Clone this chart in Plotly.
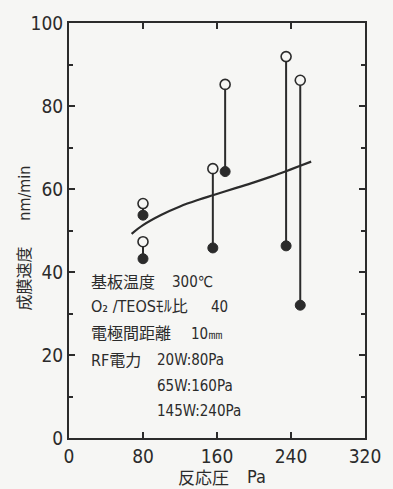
import plotly.graph_objects as go

# Data
pressure = [80, 80, 155.5, 168.8, 234.7, 250.0]
rate_open = [56.5, 47.3, 64.9, 85.2, 91.9, 86.2]
rate_filled = [53.7, 43.2, 45.8, 64.2, 46.3, 32.0]

curve_x = [67.7, 80, 100, 120, 140, 155.5, 180, 200, 220, 234.7, 250, 261.8]
curve_y = [49.2, 51.3, 53.8, 55.8, 57.4, 58.5, 60.2, 61.6, 63.1, 64.3, 65.6, 66.6]

x_ticks = [0, 80, 160, 240, 320]
y_ticks = [0, 20, 40, 60, 80, 100]

note_labels = ["基板温度", "O₂ /TEOSﾓﾙ比", "電極間距離", "RF電力", "", ""]
note_values = ["300℃", "40", "10㎜", "20W:80Pa", "65W:160Pa", "145W:240Pa"]

ink = "#2b2b2b"
bg = "#f6f6f4"
cjk = "DejaVu Sans Condensed, Noto Sans CJK JP"
narrow = "DejaVu Sans Condensed, Liberation Sans Narrow, sans-serif"

L, R, T, B = 69, 373, 17, 438


def px(x):
    return (x - L) / (R - L)


def py(y):
    return (B - y) / (B - T)


fig = go.Figure()

# connecting vertical lines
lx, ly = [], []
for p, a, b in zip(pressure, rate_open, rate_filled):
    lx += [p, p, None]
    ly += [a, b, None]
fig.add_trace(go.Scatter(x=lx, y=ly, mode="lines", line=dict(color=ink, width=2),
                         showlegend=False, hoverinfo="skip"))

fig.add_trace(go.Scatter(x=curve_x, y=curve_y, mode="lines", line=dict(color=ink, width=2.2, shape="spline"),
                         showlegend=False))

fig.add_trace(go.Scatter(x=pressure, y=rate_filled, mode="markers",
                         marker=dict(size=10, color=ink, line=dict(color=ink, width=1)),
                         showlegend=False))
fig.add_trace(go.Scatter(x=pressure, y=rate_open, mode="markers",
                         marker=dict(size=10, color=bg, line=dict(color=ink, width=1.6)),
                         showlegend=False))

# annotation block (pixel positions)
y_pos = [280, 305, 332, 359, 385, 411]
val_x = [173, 213, 192, 157, 157, 157]
for lab, val, yp, vx in zip(note_labels, note_values, y_pos, val_x):
    if lab:
        fig.add_annotation(x=px(90), y=py(yp), xref="paper", yref="paper",
                           text=lab, showarrow=False, xanchor="left", yanchor="middle",
                           font=dict(family=cjk, size=16, color=ink))
    fig.add_annotation(x=px(vx), y=py(yp), xref="paper", yref="paper",
                       text=val, showarrow=False, xanchor="left", yanchor="middle",
                       font=dict(family=narrow, size=15, color=ink))

# axis titles
fig.add_annotation(x=px(207), y=py(479), xref="paper", yref="paper",
                   text="反応圧", showarrow=False, xanchor="center", yanchor="middle",
                   font=dict(family=cjk, size=17, color=ink))
fig.add_annotation(x=px(262), y=py(477), xref="paper", yref="paper",
                   text="Pa", showarrow=False, xanchor="center", yanchor="middle",
                   font=dict(family=narrow, size=18, color=ink))
fig.add_annotation(x=px(23), y=py(276), xref="paper", yref="paper",
                   text="成膜速度", showarrow=False, textangle=-90,
                   xanchor="center", yanchor="middle",
                   font=dict(family=cjk, size=16, color=ink))
fig.add_annotation(x=px(23), y=py(190), xref="paper", yref="paper",
                   text="nm/min", showarrow=False, textangle=-90,
                   xanchor="center", yanchor="middle",
                   font=dict(family=narrow, size=16, color=ink))

fig.update_layout(
    width=393, height=489,
    margin=dict(l=L, r=393 - R, t=T, b=489 - B),
    paper_bgcolor=bg, plot_bgcolor=bg,
    showlegend=False,
    xaxis=dict(range=[0, 320], tickvals=x_ticks, ticktext=[str(v) for v in x_ticks],
               ticks="inside", ticklen=6, tickwidth=2, tickcolor=ink,
               showline=True, linecolor=ink, linewidth=2, mirror="ticks",
               showgrid=False, zeroline=False,
               tickfont=dict(family=narrow, size=19, color=ink)),
    yaxis=dict(range=[0, 100], tickvals=y_ticks, ticktext=[str(v) for v in y_ticks],
               ticks="inside", ticklen=6, tickwidth=2, tickcolor=ink,
               showline=True, linecolor=ink, linewidth=2, mirror="ticks",
               showgrid=False, zeroline=False,
               minor=dict(dtick=10, ticks="inside", ticklen=4, tickwidth=1.5, tickcolor=ink),
               tickfont=dict(family=narrow, size=19, color=ink)),
)

fig.write_html("out.html", config={"displayModeBar": False},
               post_script="document.body.style.margin='0';document.body.style.overflow='hidden';"
                           "document.body.style.background='#f6f6f4';")
